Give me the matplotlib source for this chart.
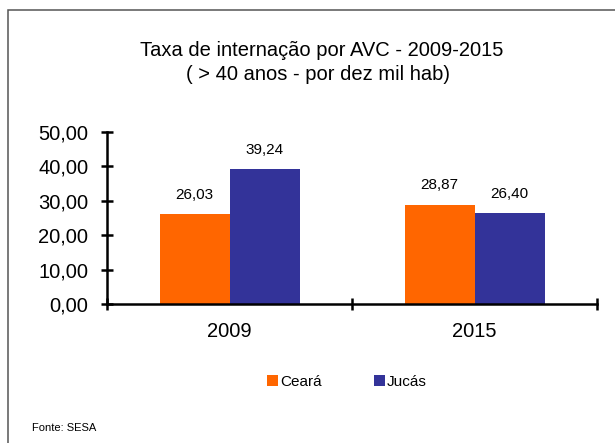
import numpy as np
import matplotlib
matplotlib.use('Agg')
import matplotlib.pyplot as plt
from matplotlib.patches import Patch, Rectangle

plt.rcParams['font.family'] = ['Liberation Sans', 'DejaVu Sans']

# Dados
anos = ['2009', '2015']
series = ['Ceará', 'Jucás']
ceara = [26.03, 28.87]
jucas = [39.24, 26.40]
cores = ['#FF6600', '#333399']

fig = plt.figure(figsize=(6.15, 4.43), dpi=100)

# moldura do gráfico (cortada à direita e embaixo)
fig.patches.append(Rectangle((8 / 615, -0.2), 2.0, 0.2 + (443 - 10) / 443,
                             transform=fig.transFigure, fill=False,
                             edgecolor='#555555', linewidth=1.1))

ax = fig.add_axes([107 / 615, (443 - 304) / 443, (597 - 107) / 615, (304 - 132) / 443])

x = np.arange(len(anos))
w = 70 / 245
for i, (vals, nome) in enumerate(zip([ceara, jucas], series)):
    pos = x - w / 2 + i * w
    ax.bar(pos, vals, width=w, color=cores[i], label=nome)
    for p, v in zip(pos, vals):
        ax.annotate(f'{v:.2f}'.replace('.', ','), (p, v), xytext=(0, 9),
                    textcoords='offset points', ha='center', va='bottom', fontsize=11)

ax.set_xlim(-0.5, len(anos) - 0.5)
ax.set_ylim(0, 50)
ax.set_yticks(np.arange(0, 51, 10))
ax.set_yticklabels([f'{v:.2f}'.replace('.', ',') for v in np.arange(0, 51, 10)])
ax.set_xticks([-0.5, 0.5, 1.5])
ax.set_xticklabels([])
ax.set_xticks(x, minor=True)
ax.set_xticklabels(anos, minor=True)

for s in ['top', 'right']:
    ax.spines[s].set_visible(False)
for s in ['left', 'bottom']:
    ax.spines[s].set_linewidth(1.8)
ax.tick_params(axis='both', which='major', direction='inout', length=9, width=1.8, labelsize=14.5)
ax.tick_params(axis='y', pad=9)
ax.tick_params(axis='x', which='minor', length=0, pad=13, labelsize=14.5)

fig.text(322 / 615, 1 - 50 / 443, 'Taxa de internação por AVC - 2009-2015',
         ha='center', va='center', fontsize=14.5)
fig.text(318 / 615, 1 - 74 / 443, '( > 40 anos - por dez mil hab)',
         ha='center', va='center', fontsize=14.5)

handles = [Patch(facecolor=c, edgecolor='none') for c in cores]
fig.legend(handles, series, loc='center', bbox_to_anchor=(347 / 615, 1 - 382 / 443),
           ncol=2, frameon=False, fontsize=11, handlelength=0.7, handleheight=0.7,
           handletextpad=0.15, columnspacing=3.4)

fig.text(32 / 615, 1 - 428 / 443, 'Fonte: SESA', ha='left', va='center', fontsize=8)

fig.savefig('out.png', dpi=100)
